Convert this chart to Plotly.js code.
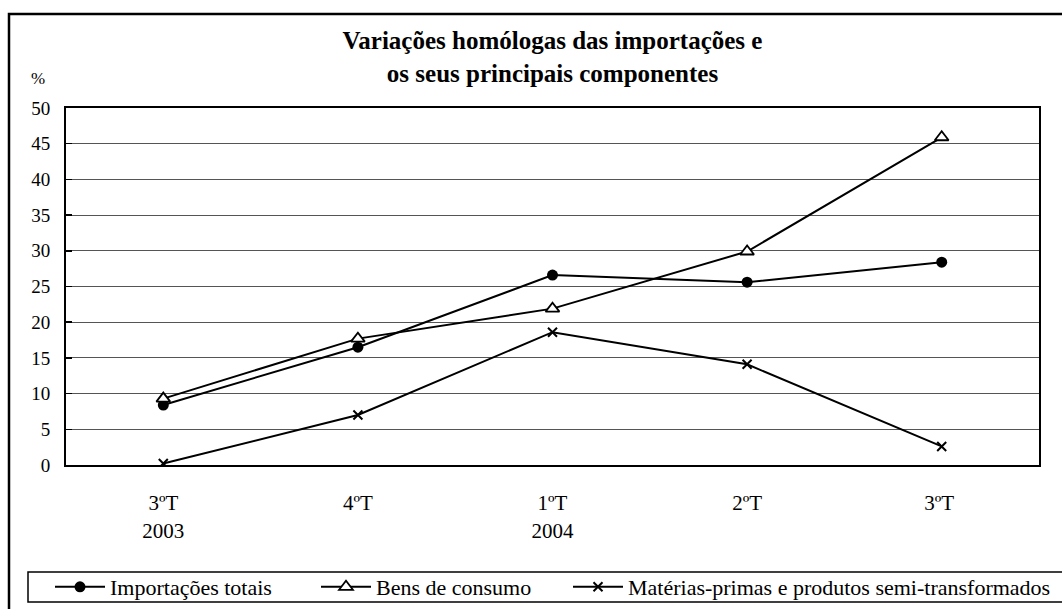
<!DOCTYPE html>
<html>
<head>
<meta charset="utf-8">
<script src="https://cdn.plot.ly/plotly-3.0.1.min.js"></script>
<style>
  html, body { margin: 0; padding: 0; background: #ffffff; }
  #chart { width: 1062px; height: 609px; }
</style>
</head>
<body>
<div id="chart"></div>
<script>
// Data
const categories = ["3ºT<br>2003", "4ºT", "1ºT<br>2004", "2ºT", "3ºT "];
const importacoesTotais = [8.4, 16.5, 26.6, 25.6, 28.4];
const bensConsumo = [9.3, 17.7, 21.9, 29.9, 45.9];
const materiasPrimas = [0.2, 7.0, 18.6, 14.1, 2.6];
const seriesNames = ["Importações totais", "Bens de consumo", "Matérias-primas e produtos semi-transformados"];
const yTicks = [0, 5, 10, 15, 20, 25, 30, 35, 40, 45, 50];

const FONT = "Liberation Serif, Times New Roman, serif";

const traces = [
  {
    x: categories, y: importacoesTotais, name: seriesNames[0], type: "scatter", mode: "lines+markers",
    line: {color: "#000000", width: 2},
    marker: {symbol: "circle", size: 11, color: "#000000"},
    legend: "legend"
  },
  {
    x: categories, y: bensConsumo, name: seriesNames[1], type: "scatter", mode: "lines+markers",
    line: {color: "#000000", width: 2},
    marker: {symbol: "triangle-up", size: 12, color: "#ffffff", line: {color: "#000000", width: 1.8}},
    legend: "legend2"
  },
  {
    x: categories, y: materiasPrimas, name: seriesNames[2], type: "scatter", mode: "lines+markers",
    line: {color: "#000000", width: 2},
    marker: {symbol: "x-thin-open", size: 9, color: "#000000", line: {color: "#000000", width: 2}},
    legend: "legend3"
  }
];

// plot area in pixels: left 66, right 1039, top 108, bottom 465
const L = 66, R = 1039, T = 108, B = 465;
const pw = R - L, ph = B - T;
const px = v => (v - L) / pw;
const py = v => (B - v) / ph;

const legendCommon = {
  orientation: "h",
  xanchor: "left", yanchor: "middle",
  bgcolor: "rgba(0,0,0,0)", borderwidth: 0,
  font: {family: FONT, size: 22, color: "#000000"},
  itemwidth: 50,
  itemclick: false, itemdoubleclick: false
};

const layout = {
  width: 1062, height: 609,
  margin: {l: L, r: 1062 - R, t: T, b: 609 - B, autoexpand: false},
  paper_bgcolor: "#ffffff", plot_bgcolor: "#ffffff",
  font: {family: FONT, color: "#000000"},
  title: {
    text: "<b>Variações homólogas das importações e<br>os seus principais componentes</b>",
    font: {family: FONT, size: 25, color: "#000000"},
    x: 0.5, xref: "paper", xanchor: "center",
    y: 1 - 49 / 609, yref: "container", yanchor: "middle"
  },
  xaxis: {
    type: "category", range: [-0.5, 4.5],
    showgrid: false, zeroline: false,
    showline: true, linecolor: "#000000", linewidth: 2, mirror: true,
    ticks: "", ticklabelstandoff: 18,
    tickfont: {family: FONT, size: 21, color: "#000000"},
    fixedrange: true
  },
  yaxis: {
    range: [0, 50], tickvals: yTicks, ticktext: yTicks.map(String),
    showgrid: true, gridcolor: "#555555", gridwidth: 1,
    zeroline: false,
    showline: true, linecolor: "#000000", linewidth: 2, mirror: true,
    ticks: "inside", ticklen: 6, tickcolor: "#000000", tickwidth: 1.5,
    ticklabelstandoff: 10,
    tickfont: {family: FONT, size: 19, color: "#000000"},
    fixedrange: true
  },
  showlegend: true,
  legend: Object.assign({}, legendCommon, {x: px(50), y: py(587)}),
  legend2: Object.assign({}, legendCommon, {x: px(316), y: py(587)}),
  legend3: Object.assign({}, legendCommon, {x: px(568), y: py(587)}),
  annotations: [
    {
      text: "%", xref: "paper", yref: "paper", x: px(38), y: py(78),
      xanchor: "center", yanchor: "middle", showarrow: false,
      font: {family: FONT, size: 17, color: "#000000"}
    }
  ],
  shapes: [
    // outer chart border
    {type: "rect", xref: "paper", yref: "paper", x0: px(9), x1: px(1075), y0: py(640), y1: py(14),
     line: {color: "#000000", width: 2.5}, fillcolor: "rgba(0,0,0,0)", layer: "below"},
    // legend box
    {type: "rect", xref: "paper", yref: "paper", x0: px(28), x1: px(1075), y0: py(602), y1: py(572),
     line: {color: "#000000", width: 1.5}, fillcolor: "rgba(0,0,0,0)", layer: "below"}
  ]
};

Plotly.newPlot("chart", traces, layout, {displayModeBar: false, staticPlot: true});
</script>
</body>
</html>
